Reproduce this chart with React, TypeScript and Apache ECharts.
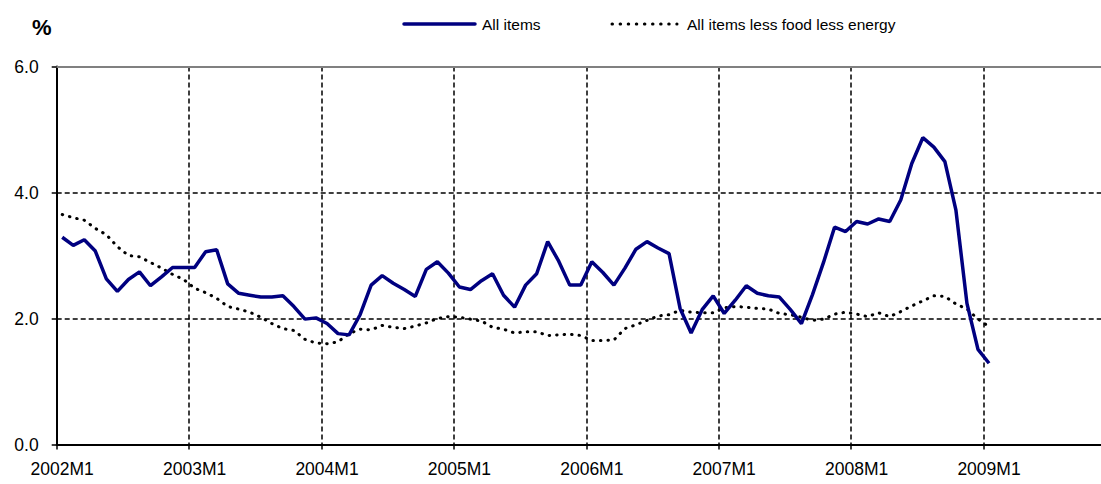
import React, { useEffect, useRef } from "react";
import * as echarts from "echarts";

const YEARS = [2002, 2003, 2004, 2005, 2006, 2007, 2008, 2009];
const months: string[] = [];
YEARS.forEach((y) => {
  for (let m = 1; m <= 12; m++) months.push(`${y}M${m}`);
});

const allItems = [
  3.29, 3.16, 3.25, 3.07, 2.63, 2.43, 2.62, 2.74, 2.52, 2.66, 2.81, 2.81,
  2.81, 3.06, 3.09, 2.55, 2.40, 2.37, 2.34, 2.34, 2.36, 2.19, 1.99, 2.01,
  1.92, 1.76, 1.74, 2.06, 2.53, 2.68, 2.56, 2.46, 2.35, 2.78, 2.90, 2.72,
  2.50, 2.46, 2.60, 2.71, 2.37, 2.18, 2.53, 2.71, 3.22, 2.91, 2.53, 2.53,
  2.90, 2.73, 2.53, 2.80, 3.10, 3.22, 3.12, 3.03, 2.16, 1.77, 2.14, 2.36,
  2.08, 2.29, 2.52, 2.40, 2.36, 2.34, 2.14, 1.92, 2.38, 2.89, 3.45, 3.38,
  3.54, 3.50, 3.58, 3.54, 3.88, 4.46, 4.87, 4.72, 4.49, 3.72, 2.24, 1.51,
  1.29,
];

const core = [
  3.65, 3.60, 3.56, 3.43, 3.33, 3.14, 3.00, 2.98, 2.89, 2.80, 2.70, 2.62,
  2.48, 2.41, 2.32, 2.19, 2.15, 2.10, 2.02, 1.92, 1.84, 1.81, 1.67, 1.61,
  1.60, 1.63, 1.76, 1.83, 1.82, 1.89, 1.86, 1.84, 1.88, 1.93, 2.00, 2.03,
  2.02, 1.99, 1.96, 1.86, 1.83, 1.77, 1.79, 1.79, 1.73, 1.74, 1.75, 1.73,
  1.65, 1.65, 1.66, 1.84, 1.90, 1.97, 2.04, 2.06, 2.13, 2.10, 2.09, 2.09,
  2.17, 2.19, 2.18, 2.16, 2.15, 2.08, 2.06, 2.02, 1.97, 1.99, 2.07, 2.10,
  2.07, 2.03, 2.09, 2.03, 2.11, 2.20, 2.28, 2.36, 2.35, 2.23, 2.15, 1.99,
  1.87,
];

const SERIES_A = "All items";
const SERIES_B = "All items less food less energy";
const FONT = "'Liberation Sans', Arial, sans-serif";
const NAVY = "#000080";
const DOT_STYLE = { color: "#000", width: 3, type: [0.5, 7], cap: "round" };

export default function App() {
  const ref = useRef<HTMLDivElement>(null);
  useEffect(() => {
    if (!ref.current) return;
    const chart = echarts.init(ref.current, undefined, { renderer: "svg" });
    chart.setOption({
      animation: false,
      textStyle: { fontFamily: FONT, color: "#000" },
      grid: {
        left: 56.7,
        width: 1059.2,
        top: 66.5,
        height: 378,
        containLabel: false,
        outerBoundsMode: "none",
      },
      graphic: [
        {
          type: "text",
          left: 32,
          top: 16,
          style: { text: "%", font: `bold 22px ${FONT}`, fill: "#000" },
        },
        {
          type: "line",
          shape: { x1: 404, y1: 24, x2: 475, y2: 24 },
          style: { stroke: NAVY, lineWidth: 3.5, lineCap: "round" },
        },
        {
          type: "text",
          left: 482,
          top: 16,
          style: { text: SERIES_A, font: `15.5px ${FONT}`, fill: "#000" },
        },
        {
          type: "line",
          shape: { x1: 612, y1: 24, x2: 677, y2: 24 },
          style: { stroke: "#000", lineWidth: 3, lineDash: [0.5, 7.6], lineCap: "round" },
        },
        {
          type: "text",
          left: 687,
          top: 16,
          style: { text: SERIES_B, font: `15.5px ${FONT}`, fill: "#000" },
        },
      ],
      xAxis: [
        {
          type: "category",
          data: months,
          boundaryGap: true,
          axisLine: { lineStyle: { color: "#000", width: 2 } },
          axisTick: { show: true, interval: 11, length: 5, alignWithLabel: false, lineStyle: { color: "#000", width: 1.5 } },
          axisLabel: { interval: 11, margin: 15, fontSize: 17.5, color: "#000", fontFamily: FONT },
          splitLine: { show: true, interval: 11, lineStyle: { color: "#000", type: [5, 3], width: 1.5 } },
        },
        {
          type: "category",
          data: months,
          position: "top",
          boundaryGap: true,
          axisLine: { lineStyle: { color: "#808080", width: 2 } },
          axisTick: { show: false },
          axisLabel: { show: false },
          splitLine: { show: false },
        },
      ],
      yAxis: {
        type: "value",
        min: 0,
        max: 6,
        interval: 2,
        axisLine: { show: true, lineStyle: { color: "#000", width: 2 } },
        axisTick: { show: true, length: 5, lineStyle: { color: "#000", width: 1.5 } },
        axisLabel: { margin: 18, fontSize: 17.5, color: "#000", fontFamily: FONT, formatter: (v: number) => v.toFixed(1) },
        splitLine: {
          show: true,
          lineStyle: { color: ["rgba(0,0,0,0)", "#000", "#000", "rgba(0,0,0,0)"], type: [5, 3], width: 1.5 },
        },
      },
      series: [
        {
          name: SERIES_B,
          type: "line",
          data: core,
          showSymbol: false,
          symbol: "none",
          z: 3,
          lineStyle: DOT_STYLE,
          itemStyle: { color: "#000" },
        },
        {
          name: SERIES_A,
          type: "line",
          data: allItems,
          showSymbol: false,
          symbol: "none",
          z: 4,
          lineStyle: { color: NAVY, width: 3.5 },
          itemStyle: { color: NAVY },
        },
      ],
    });
    return () => chart.dispose();
  }, []);
  return (
    <div
      ref={ref}
      style={{ position: "absolute", left: 0, top: 0, width: 1101, height: 484, background: "#fff" }}
    />
  );
}
